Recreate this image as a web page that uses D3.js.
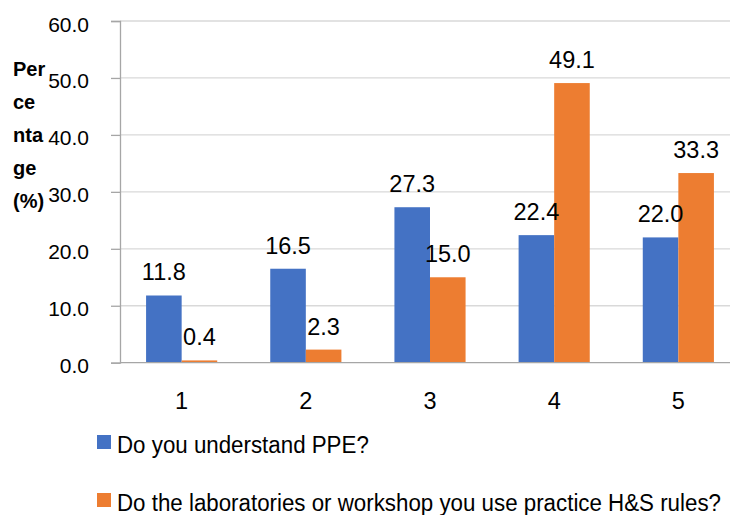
<!DOCTYPE html>
<html><head><meta charset="utf-8">
<script src="https://cdn.jsdelivr.net/npm/d3@7"></script>
<style>
body{margin:0;background:#fff;}
text{font-family:"Liberation Sans",Arial,sans-serif;}
</style></head>
<body><svg id="chart" width="730" height="515"></svg>
<script>
const categories = ["1","2","3","4","5"];
const seriesNames = ["Do you understand PPE?","Do the laboratories or workshop you use practice H&S rules?"];
const ppe = [11.8,16.5,27.3,22.4,22.0];
const hs = [0.4,2.3,15.0,49.1,33.3];
const yTicks = [0,10,20,30,40,50,60];
const yTitleLines = ["Per","ce","nta","ge","(%)"];
const colors = ["#4472C4","#ED7D31"];

const svg = d3.select("#chart");
const mLeft = 120, mRight = 740, mTop = 21, mBottom = 362.7;
const x = d3.scaleBand().domain(categories).range([mLeft,mRight]).paddingInner(0.427).paddingOuter(0.21);
const x1 = d3.scaleBand().domain([0,1]).range([0,x.bandwidth()]);
const y = d3.scaleLinear().domain([0,60]).range([mBottom,mTop]);

// gridlines
svg.append("g").selectAll("line").data(yTicks.filter(d=>d>0)).join("line")
  .attr("x1",mLeft).attr("x2",730).attr("y1",d=>y(d)).attr("y2",d=>y(d))
  .attr("stroke","#d9d9d9").attr("stroke-width",1.3);

// y axis
const yAxis = svg.append("g").attr("transform",`translate(${mLeft},0)`)
  .call(d3.axisLeft(y).tickValues(yTicks).tickFormat(d3.format(".1f")).tickSize(9).tickPadding(22));
yAxis.attr("font-family",null).attr("font-size",null);
yAxis.select(".domain").attr("stroke","#a6a6a6").attr("stroke-width",1.3);
yAxis.selectAll(".tick line").attr("stroke","#a6a6a6").attr("stroke-width",1.3);
yAxis.selectAll(".tick text").attr("font-size",21).attr("fill","#000").attr("dy","10px");

// bars
const data = categories.map((c,i)=>({c,vals:[ppe[i],hs[i]]}));
const groups = svg.append("g").selectAll("g").data(data).join("g")
  .attr("transform",d=>`translate(${x(d.c)},0)`);
groups.selectAll("rect").data(d=>d.vals.map((v,k)=>({v,k}))).join("rect")
  .attr("x",d=>x1(d.k)).attr("width",x1.bandwidth())
  .attr("y",d=>y(d.v)).attr("height",d=>mBottom-y(d.v))
  .attr("fill",d=>colors[d.k]);
groups.selectAll("text").data(d=>d.vals.map((v,k)=>({v,k}))).join("text")
  .attr("x",d=>x1(d.k)+x1.bandwidth()/2).attr("y",d=>y(d.v)-15)
  .attr("text-anchor","middle").attr("font-size",23.5).attr("fill","#000")
  .text(d=>d.v.toFixed(1));

// x axis
const xAxis = svg.append("g").attr("transform",`translate(0,${mBottom})`)
  .call(d3.axisBottom(x).tickSize(0).tickPadding(0));
xAxis.attr("font-family",null).attr("font-size",null);
xAxis.select(".domain").attr("stroke","#a6a6a6").attr("stroke-width",1.3).attr("d",`M${mLeft},0H730`);
xAxis.selectAll(".tick text").attr("font-size",23.5).attr("fill","#000").attr("dy",null).attr("y",46.5);

// y title
svg.append("text").attr("font-size",20).attr("font-weight","bold").attr("fill","#000")
  .selectAll("tspan").data(yTitleLines).join("tspan")
  .attr("x",13).attr("y",(d,i)=>76+i*33).text(d=>d);

// legend
const leg = svg.append("g").selectAll("g").data(seriesNames).join("g")
  .attr("transform",(d,i)=>`translate(97,${435+i*58})`);
leg.append("rect").attr("width",14).attr("height",14).attr("fill",(d,i)=>colors[i]);
leg.append("text").attr("transform","translate(20,18) scale(0.95,1)")
  .attr("font-size",23.5).attr("fill","#000").text(d=>d);
</script></body></html>
